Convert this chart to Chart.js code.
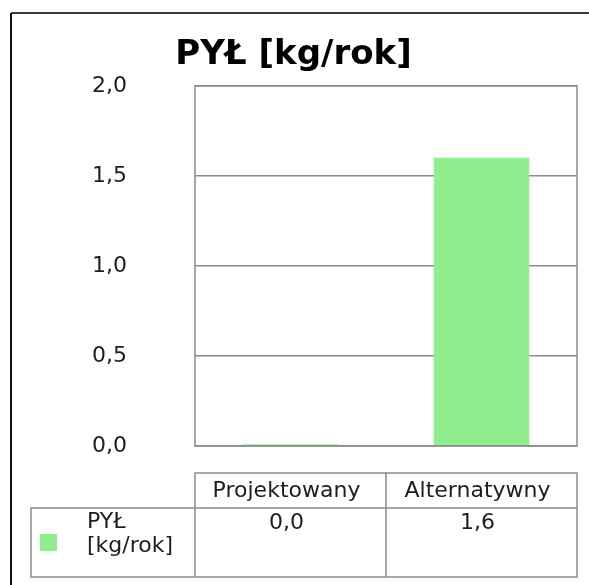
<!DOCTYPE html>
<html>
<head>
<meta charset="utf-8">
<script src="https://cdn.jsdelivr.net/npm/chart.js@4/dist/chart.umd.min.js"></script>
<style>
  html, body { margin: 0; padding: 0; background: #fff; }
  #wrap { width: 589px; height: 585px; position: relative; }
</style>
</head>
<body>
<div id="wrap"><canvas id="c" width="589" height="585"></canvas></div>
<script>
// ---- data ----
const chartTitle = 'PYŁ [kg/rok]';
const categories = ['Projektowany', 'Alternatywny'];
const seriesName = 'PYŁ [kg/rok]';
const seriesValues = [0.01, 1.6];
const tableValues = ['0,0', '1,6'];
const yTicks = [0, 0.5, 1.0, 1.5, 2.0];

const GREEN = '#90EE90';
const GRID = '#8c8c8c';
const TEXT = '#1e1e1e';
const FONT = '"DejaVu Sans", sans-serif';

function fmt(v) { return v.toFixed(1).replace('.', ','); }

const decor = {
  id: 'decor',
  afterDraw(chart) {
    const ctx = chart.ctx;
    const a = chart.chartArea;
    const xs = chart.scales.x;
    ctx.save();
    // plot border
    ctx.strokeStyle = GRID;
    ctx.lineWidth = 1.5;
    ctx.strokeRect(a.left, a.top, a.right - a.left, a.bottom - a.top);

    // data table
    const n = categories.length;
    const colW = (a.right - a.left) / n;
    const hTop = 473, hBot = 508, rBot = 577, legLeft = 31;
    ctx.lineWidth = 1.5;
    ctx.strokeStyle = GRID;
    ctx.beginPath();
    ctx.rect(a.left, hTop, a.right - a.left, hBot - hTop);
    ctx.rect(legLeft, hBot, a.right - legLeft, rBot - hBot);
    for (let i = 0; i <= n; i++) {
      const x = a.left + i * colW;
      ctx.moveTo(x, hTop);
      ctx.lineTo(x, rBot);
    }
    ctx.stroke();

    ctx.fillStyle = TEXT;
    ctx.font = '22px ' + FONT;
    ctx.textAlign = 'center';
    ctx.textBaseline = 'middle';
    for (let i = 0; i < n; i++) {
      const cx = xs.getPixelForValue(i) - 4;
      ctx.fillText(categories[i], cx, (hTop + hBot) / 2 + 1);
      ctx.fillText(tableValues[i], cx, 523);
    }
    // legend cell
    ctx.fillStyle = GREEN;
    ctx.fillRect(40, 534, 17, 17);
    ctx.fillStyle = TEXT;
    ctx.textAlign = 'left';
    const parts = seriesName.split(' ');
    ctx.fillText(parts[0], 87, 522);
    ctx.fillText(parts.slice(1).join(' '), 87, 546);

    // outer frame
    ctx.strokeStyle = '#3a3a3a';
    ctx.lineWidth = 2;
    ctx.beginPath();
    ctx.moveTo(11, 13); ctx.lineTo(589, 13);
    ctx.stroke();
    ctx.strokeStyle = '#111';
    ctx.beginPath();
    ctx.moveTo(11, 13); ctx.lineTo(11, 585);
    ctx.stroke();
    ctx.restore();
  }
};

new Chart(document.getElementById('c'), {
  type: 'bar',
  data: {
    labels: categories,
    datasets: [{
      label: seriesName,
      data: seriesValues,
      backgroundColor: GREEN,
      borderWidth: 0,
      categoryPercentage: 1.0,
      barPercentage: 0.5
    }]
  },
  options: {
    responsive: false,
    animation: false,
    devicePixelRatio: 1,
    layout: { padding: { left: 10, right: 12, top: 0, bottom: 139 } },
    plugins: {
      legend: { display: false },
      tooltip: { enabled: false },
      title: {
        display: true,
        text: chartTitle,
        color: '#000',
        font: { family: FONT, size: 34, weight: 'bold', lineHeight: 1.2 },
        padding: { top: 35, bottom: 10 }
      }
    },
    scales: {
      x: { display: false },
      y: {
        min: 0, max: 2,
        afterBuildTicks(scale) { scale.ticks = yTicks.map(v => ({ value: v })); },
        afterFit(scale) { scale.width = 185; },
        ticks: {
          padding: 68,
          color: TEXT,
          font: { family: FONT, size: 22 },
          callback: (v) => fmt(v)
        },
        grid: { color: GRID, lineWidth: 1.5, drawTicks: false },
        border: { display: false }
      }
    }
  },
  plugins: [decor]
});
</script>
</body>
</html>
